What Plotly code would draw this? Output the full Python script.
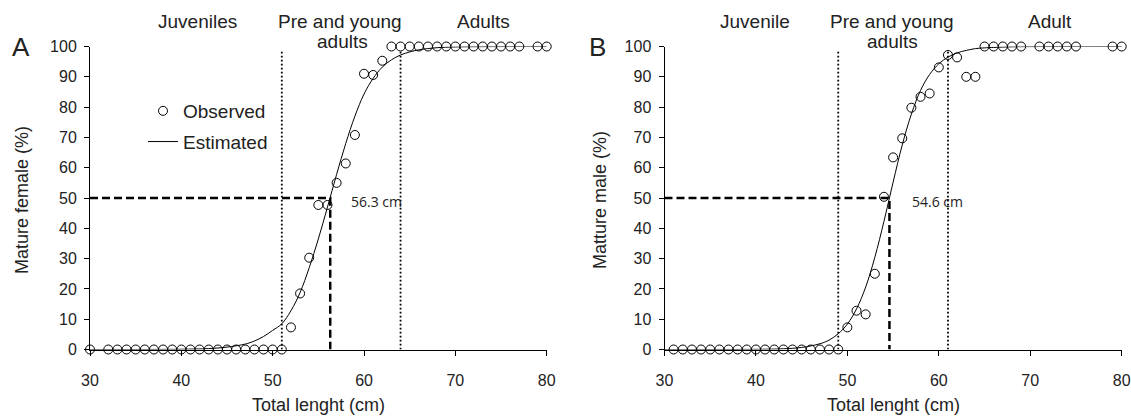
import plotly.graph_objects as go

W, H = 1131, 418

# ---------------- Panel A : females ----------------
fem_obs_len = [30, 32, 33, 34, 35, 36, 37, 38, 39, 40, 41, 42, 43, 44, 45, 46, 47, 48, 49, 50, 51,
               52, 53, 54, 55, 56, 57, 58, 59, 60, 61, 62,
               63, 64, 65, 66, 67, 68, 69, 70, 71, 72, 73, 74, 75, 76, 77, 79, 80]
fem_obs_pct = [0, 0, 0, 0, 0, 0, 0, 0, 0, 0, 0, 0, 0, 0, 0, 0, 0, 0, 0, 0, 0,
               7.3, 18.5, 30.3, 47.7, 47.7, 55.0, 61.4, 70.8, 91.0, 90.6, 95.3,
               100, 100, 100, 100, 100, 100, 100, 100, 100, 100, 100, 100, 100, 100, 100, 100, 100]
fem_est_len = [30, 35, 40, 43, 45, 47, 48, 49, 50, 51, 52, 53, 54, 55, 56, 57, 58, 59, 60,
               61, 62, 63, 64, 65, 66, 68, 70, 75, 80]
fem_est_pct = [0.0, 0.01, 0.08, 0.3, 0.8, 1.8, 2.8, 4.3, 6.3, 8.5, 12.8, 18.8, 27.0, 36.5,
               47.0, 57.8, 68.0, 77.0, 84.3, 89.5, 93.2, 95.6, 97.2, 98.2, 98.9, 99.6, 99.85,
               99.98, 100]
fem_L50 = 56.3
fem_stage_bounds = [51, 64]

# ---------------- Panel B : males ----------------
male_obs_len = [31, 32, 33, 34, 35, 36, 37, 38, 39, 40, 41, 42, 43, 44, 45, 46, 47, 48, 49,
                50, 51, 52, 53, 54, 55, 56, 57, 58, 59, 60, 61, 62, 63, 64,
                65, 66, 67, 68, 69, 71, 72, 73, 74, 75, 79, 80]
male_obs_pct = [0, 0, 0, 0, 0, 0, 0, 0, 0, 0, 0, 0, 0, 0, 0, 0, 0, 0, 0,
                7.3, 12.8, 11.6, 25.0, 50.4, 63.4, 69.7, 79.8, 83.4, 84.5, 93.1, 97.2, 96.4, 90.0, 90.0,
                100, 100, 100, 100, 100, 100, 100, 100, 100, 100, 100, 100]
male_est_len = [30, 35, 40, 43, 45, 47, 48, 49, 50, 51, 52, 53, 54, 55, 56, 57, 58, 59, 60,
                61, 62, 63, 64, 65, 66, 68, 70, 75, 80]
male_est_pct = [0.0, 0.004, 0.05, 0.24, 0.68, 1.9, 3.1, 5.2, 8.4, 13.4, 20.6, 30.4, 42.3, 55.2,
                67.5, 77.7, 85.5, 90.8, 94.3, 96.5, 97.9, 98.7, 99.3, 99.55, 99.7, 99.9, 99.97,
                100, 100]
male_L50 = 54.6
male_stage_bounds = [49, 61]

x_ticks = [30, 40, 50, 60, 70, 80]
y_ticks = [0, 10, 20, 30, 40, 50, 60, 70, 80, 90, 100]

FONT = "Liberation Sans, Arial, sans-serif"
TXT = "#222"


def px_x(p):
    return p / W


def px_y(p):
    return 1 - p / H


fig = go.Figure()


def add_panel(xa, ya, obs_x, obs_y, est_x, est_y, L50, bounds, legend):
    # stage boundaries (dotted)
    for b in bounds:
        fig.add_trace(go.Scatter(x=[b, b], y=[0, 99], mode="lines", xaxis=xa, yaxis=ya,
                                 line=dict(color="black", width=1.8, dash="1.8px,2.2px"),
                                 showlegend=False, hoverinfo="skip", cliponaxis=False))
    # L50 dashed guides
    fig.add_trace(go.Scatter(x=[30, L50, L50], y=[50, 50, 0], mode="lines", xaxis=xa, yaxis=ya,
                             line=dict(color="black", width=2.5, dash="8px,4px"),
                             showlegend=False, hoverinfo="skip", cliponaxis=False))
    # estimated curve
    fig.add_trace(go.Scatter(x=est_x, y=est_y, mode="lines", xaxis=xa, yaxis=ya,
                             name="Estimated", legendgroup="est",
                             line=dict(color="black", width=1, shape="spline"),
                             showlegend=legend, cliponaxis=False, legendrank=2))
    # observed
    fig.add_trace(go.Scatter(x=obs_x, y=obs_y, mode="markers", xaxis=xa, yaxis=ya,
                             name="Observed", legendgroup="obs",
                             marker=dict(symbol="circle-open", size=9, color="black",
                                         line=dict(width=1, color="black")),
                             showlegend=legend, cliponaxis=False, legendrank=1))


add_panel("x", "y", fem_obs_len, fem_obs_pct, fem_est_len, fem_est_pct, fem_L50, fem_stage_bounds, True)
add_panel("x2", "y2", male_obs_len, male_obs_pct, male_est_len, male_est_pct, male_L50, male_stage_bounds, False)

axis_common = dict(showline=True, linecolor="black", linewidth=1, ticks="outside", ticklen=5,
                   tickcolor="black", tickwidth=1, showgrid=False, zeroline=False,
                   tickfont=dict(family=FONT, size=16, color=TXT), automargin=False,
                   ticklabeloverflow="allow")

ydom = [px_y(349.5), px_y(46.5)]

fig.update_layout(
    width=W, height=H,
    margin=dict(l=0, r=0, t=0, b=0),
    paper_bgcolor="white", plot_bgcolor="white",
    font=dict(family=FONT, color=TXT),
    xaxis=dict(domain=[px_x(90), px_x(546.7)], range=[30, 80], tickvals=x_ticks,
               anchor="y", ticklabelstandoff=11, **axis_common),
    yaxis=dict(domain=ydom, range=[0, 100], tickvals=y_ticks, anchor="x",
               ticklabelstandoff=4, **axis_common),
    xaxis2=dict(domain=[px_x(664.5), px_x(1121.7)], range=[30, 80], tickvals=x_ticks,
                anchor="y2", ticklabelstandoff=11, **axis_common),
    yaxis2=dict(domain=ydom, range=[0, 100], tickvals=y_ticks, anchor="x2",
                ticklabelstandoff=4, **axis_common),
    legend=dict(x=px_x(143), y=px_y(92), xanchor="left", yanchor="top",
                bgcolor="rgba(0,0,0,0)", font=dict(family=FONT, size=19, color=TXT),
                itemwidth=30, traceorder="grouped", tracegroupgap=3),
    showlegend=True,
)


def ann(text, x, y, size, xanchor="center", yanchor="middle", angle=0, family=FONT,
        xref="paper", yref="paper", **kw):
    fig.add_annotation(text=text, x=x, y=y, xref=xref, yref=yref, showarrow=False,
                       xanchor=xanchor, yanchor=yanchor, textangle=angle,
                       font=dict(family=family, size=size, color=TXT), **kw)


# panel letters
ann("A", px_x(21), px_y(47), 26)
ann("B", px_x(597), px_y(47), 26)

# life stage labels
ann("Juveniles", px_x(197), px_y(22), 19)
ann("Pre and young", px_x(340), px_y(22), 19)
ann("adults", px_x(342), px_y(42), 19)
ann("Adults", px_x(484), px_y(22), 19)

ann("Juvenile", px_x(755), px_y(22), 19)
ann("Pre and young", px_x(892), px_y(22), 19)
ann("adults", px_x(892), px_y(42), 19)
ann("Adult", px_x(1050), px_y(22), 19)

# axis titles
ann("Total lenght (cm)", px_x(318), px_y(405), 18)
ann("Total lenght (cm)", px_x(893), px_y(405), 18)
ann("Mature female (%)", px_x(22), px_y(200), 18, angle=-90)
ann("Matture male (%)", px_x(600), px_y(200), 18, angle=-90)

# L50 labels
ann(f"{fem_L50} cm", 58.4, 50, 14, xanchor="left", yanchor="top", family="Open Sans, sans-serif",
    xref="x", yref="y", yshift=8)
ann(f"{male_L50} cm", 56.9, 50, 14, xanchor="left", yanchor="top", family="Open Sans, sans-serif",
    xref="x2", yref="y2", yshift=8)

fig.write_html("out.html",
               config={"displayModeBar": False},
               post_script="document.body.style.margin='0';"
                           "document.documentElement.style.overflow='hidden';")
